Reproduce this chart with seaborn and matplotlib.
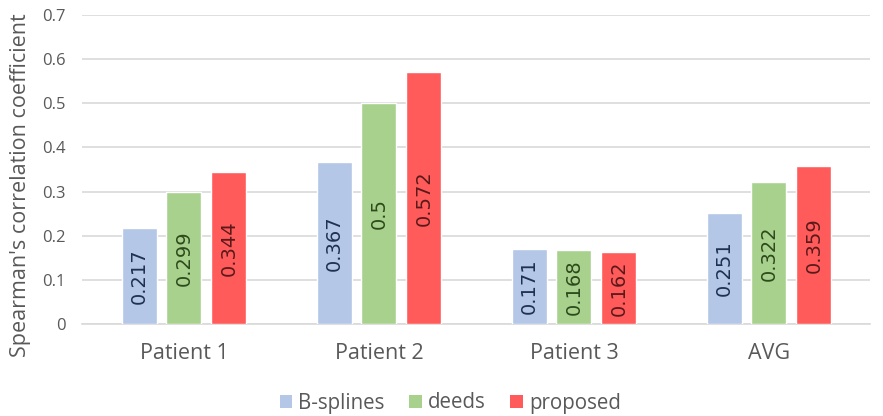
import matplotlib
matplotlib.use("Agg")
import matplotlib.pyplot as plt
from matplotlib.patches import Patch
import seaborn as sns
import pandas as pd

categories = ["Patient 1", "Patient 2", "Patient 3", "AVG"]
methods = ["B-splines", "deeds", "proposed"]
bsplines = [0.217, 0.367, 0.171, 0.251]
deeds = [0.299, 0.5, 0.168, 0.322]
proposed = [0.344, 0.572, 0.162, 0.359]
yticks = [0, 0.1, 0.2, 0.3, 0.4, 0.5, 0.6, 0.7]
ytick_labels = ["0", "0.1", "0.2", "0.3", "0.4", "0.5", "0.6", "0.7"]

colors = ["#B4C7E7", "#A9D18E", "#FF5B5B"]
label_colors = ["#1F3050", "#2E4A1C", "#5A1A1A"]

df = pd.DataFrame({
    "category": categories * 3,
    "method": [m for m in methods for _ in categories],
    "value": bsplines + deeds + proposed,
})

sns.set_theme(style="white")
plt.rcParams["font.family"] = ["Open Sans", "DejaVu Sans"]

fig = plt.figure(figsize=(8.83, 4.16), dpi=100)
ax = fig.add_axes([82 / 883, 1 - 324 / 416, 788 / 883, 309 / 416])

sns.barplot(data=df, x="category", y="value", hue="method", order=categories,
            hue_order=methods, palette=colors, width=0.69, gap=0.22,
            saturation=1, errorbar=None, ax=ax, legend=False, zorder=3)

for cont, lc in zip(ax.containers, label_colors):
    labels = [f"{v:g}" for v in cont.datavalues]
    ax.bar_label(cont, labels=labels, label_type="center", rotation=90,
                 color=lc, fontsize=14, family="DejaVu Sans")

ax.set_ylim(0, 0.7)
ax.set_xlim(-0.523, 3.518)
ax.set_yticks(yticks)
ax.set_yticklabels(ytick_labels)
ax.yaxis.grid(True, color="#D9D9D9", linewidth=1.2, zorder=0)
ax.set_axisbelow(True)
for s in ["top", "right", "left"]:
    ax.spines[s].set_visible(False)
ax.spines["bottom"].set_color("#D9D9D9")
ax.spines["bottom"].set_linewidth(1.2)
ax.tick_params(axis="both", length=0, colors="#595959")
ax.tick_params(axis="y", labelsize=12, pad=12)
ax.tick_params(axis="x", labelsize=15.5, pad=14)
ax.set_xlabel("")
ax.set_ylabel("")
fig.text(21 / 883, 1 - 185 / 416, "Spearman's correlation coefficient",
         rotation=90, ha="center", va="center", fontsize=15.5, color="#595959")

handles = [Patch(facecolor=c, edgecolor="none") for c in colors]
fig.legend(handles, methods, loc="center", bbox_to_anchor=(0.51, 1 - 403 / 416), ncol=3,
           frameon=False, fontsize=14.8, labelcolor="#595959", handlelength=0.6,
           handleheight=0.6, handletextpad=0.3, columnspacing=1.2)

fig.savefig("out.png", dpi=100)
